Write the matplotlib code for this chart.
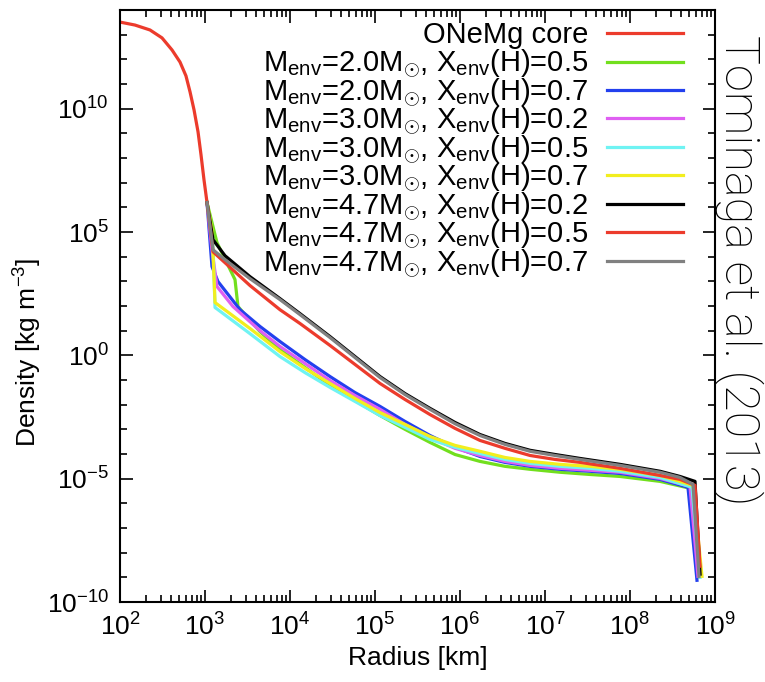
import numpy as np
import matplotlib
matplotlib.use("Agg")
import matplotlib.pyplot as plt
from matplotlib.ticker import FixedLocator, LogLocator, LogFormatterSciNotation, NullFormatter

plt.rcParams['font.family'] = ['Liberation Sans', 'DejaVu Sans']
plt.rcParams['mathtext.fontset'] = 'custom'
plt.rcParams['mathtext.rm'] = 'Liberation Sans'
plt.rcParams['mathtext.it'] = 'Liberation Sans:italic'
plt.rcParams['mathtext.bf'] = 'Liberation Sans:bold'
plt.rcParams['axes.unicode_minus'] = False

# log10 radius [km] / log10 density [kg m^-3]
core_logr = [2.0, 2.176, 2.353, 2.494, 2.612, 2.706, 2.776, 2.824, 2.871, 2.918, 2.953, 2.988, 3.024]
core_logrho = [13.51, 13.39, 13.19, 12.87, 12.38, 11.89, 11.33, 10.68, 9.95, 9.06, 8.13, 7.12, 6.19]

m20_x05_logr = [3.024, 3.141, 3.353, 3.388, 3.647, 3.882, 4.176, 4.471, 4.765, 5.059, 5.353,
                5.647, 5.941, 6.235, 6.529, 6.824, 7.176, 7.529, 7.882, 8.353, 8.706, 8.800]
m20_x05_logrho = [6.19, 4.57, 3.07, 1.98, 0.96, 0.23, -0.49, -1.22, -1.83, -2.44, -3.00,
                  -3.53, -4.02, -4.30, -4.50, -4.62, -4.74, -4.83, -4.91, -5.11, -5.39, -9.00]

m20_x07_logr = [3.024, 3.082, 3.153, 3.412, 3.647, 3.882, 4.176, 4.471, 4.765, 5.059, 5.353,
                5.647, 5.941, 6.235, 6.529, 6.824, 7.176, 7.529, 7.882, 8.353, 8.682, 8.788]
m20_x07_logrho = [6.19, 3.60, 2.99, 1.85, 1.17, 0.56, -0.17, -0.86, -1.51, -2.07, -2.68,
                  -3.25, -3.73, -4.10, -4.34, -4.50, -4.62, -4.70, -4.79, -5.03, -5.35, -9.12]

m30_x02_logr = [3.024, 3.082, 3.141, 3.329, 3.647, 3.882, 4.176, 4.471, 4.765, 5.059, 5.353,
                5.647, 5.941, 6.235, 6.529, 6.824, 7.176, 7.529, 7.882, 8.353, 8.706, 8.800]
m30_x02_logrho = [6.19, 4.28, 2.79, 1.98, 1.00, 0.36, -0.33, -1.02, -1.63, -2.19, -2.80,
                  -3.33, -3.77, -4.06, -4.30, -4.46, -4.58, -4.66, -4.74, -4.99, -5.31, -8.96]

m30_x05_logr = [3.024, 3.094, 3.118, 3.529, 3.882, 4.176, 4.471, 4.765, 5.059, 5.353, 5.647,
                5.941, 6.235, 6.529, 6.824, 7.176, 7.529, 7.882, 8.353, 8.729, 8.824]
m30_x05_logrho = [6.19, 4.49, 1.94, 0.88, -0.05, -0.70, -1.30, -1.87, -2.44, -2.92, -3.41,
                  -3.73, -3.98, -4.22, -4.38, -4.50, -4.58, -4.70, -4.95, -5.35, -9.00]

m30_x07_logr = [3.024, 3.082, 3.118, 3.529, 3.882, 4.176, 4.471, 4.765, 5.059, 5.353, 5.647,
                5.941, 6.235, 6.529, 6.824, 7.176, 7.529, 7.882, 8.353, 8.741, 8.847]
m30_x07_logrho = [6.19, 5.09, 2.14, 1.09, 0.15, -0.53, -1.14, -1.75, -2.32, -2.80, -3.29,
                  -3.65, -3.89, -4.14, -4.30, -4.42, -4.50, -4.62, -4.87, -5.27, -8.96]

m47_x02_logr = [3.024, 3.094, 3.235, 3.529, 3.882, 4.118, 4.471, 4.765, 5.059, 5.353, 5.647,
                5.941, 6.235, 6.529, 6.824, 7.118, 7.412, 7.882, 8.353, 8.588, 8.765, 8.824]
m47_x02_logrho = [6.19, 4.69, 4.04, 3.19, 2.30, 1.69, 0.76, -0.05, -0.86, -1.55, -2.15,
                  -2.72, -3.21, -3.57, -3.85, -4.02, -4.18, -4.42, -4.70, -4.91, -5.11, -8.87]

m47_x05_logr = [3.024, 3.094, 3.529, 3.882, 4.118, 4.471, 4.765, 5.059, 5.353, 5.647, 5.941,
                6.235, 6.529, 6.824, 7.118, 7.412, 7.882, 8.353, 8.588, 8.765, 8.824]
m47_x05_logrho = [6.19, 4.20, 2.83, 1.85, 1.29, 0.40, -0.37, -1.14, -1.79, -2.40, -2.96,
                  -3.45, -3.77, -4.06, -4.22, -4.34, -4.58, -4.87, -5.03, -5.27, -8.55]

m47_x07_logr = [3.024, 3.094, 3.235, 3.529, 3.882, 4.118, 4.471, 4.765, 5.059, 5.353, 5.647,
                5.941, 6.235, 6.529, 6.824, 7.118, 7.412, 7.882, 8.353, 8.588, 8.741, 8.812]
m47_x07_logrho = [6.19, 4.28, 3.88, 3.11, 2.26, 1.65, 0.72, -0.09, -0.90, -1.59, -2.19,
                  -2.77, -3.25, -3.61, -3.89, -4.06, -4.22, -4.46, -4.74, -4.95, -5.23, -8.96]

labels = [
    'ONeMg core',
    r'M$_{\rm env}$=2.0M$_{\odot}$, X$_{\rm env}$(H)=0.5',
    r'M$_{\rm env}$=2.0M$_{\odot}$, X$_{\rm env}$(H)=0.7',
    r'M$_{\rm env}$=3.0M$_{\odot}$, X$_{\rm env}$(H)=0.2',
    r'M$_{\rm env}$=3.0M$_{\odot}$, X$_{\rm env}$(H)=0.5',
    r'M$_{\rm env}$=3.0M$_{\odot}$, X$_{\rm env}$(H)=0.7',
    r'M$_{\rm env}$=4.7M$_{\odot}$, X$_{\rm env}$(H)=0.2',
    r'M$_{\rm env}$=4.7M$_{\odot}$, X$_{\rm env}$(H)=0.5',
    r'M$_{\rm env}$=4.7M$_{\odot}$, X$_{\rm env}$(H)=0.7',
]
colors = ['#ec3b2c', '#72df1e', '#2340ee', '#df5ff2', '#6ff3f3',
          '#f2ee1f', '#000000', '#ec3b2c', '#808080']
series = [
    (core_logr, core_logrho),
    (m20_x05_logr, m20_x05_logrho),
    (m20_x07_logr, m20_x07_logrho),
    (m30_x02_logr, m30_x02_logrho),
    (m30_x05_logr, m30_x05_logrho),
    (m30_x07_logr, m30_x07_logrho),
    (m47_x02_logr, m47_x02_logrho),
    (m47_x05_logr, m47_x05_logrho),
    (m47_x07_logr, m47_x07_logrho),
]

fig = plt.figure(figsize=(7.65, 6.82), dpi=100)
ax = fig.add_axes([120/765, 80/682, 595/765, 592/682])

for (lr, lrho), c in zip(series, colors):
    ax.plot(np.power(10.0, lr), np.power(10.0, lrho), color=c, lw=2.3)

ax.set_xscale('log')
ax.set_yscale('log')
ax.set_xlim(1e2, 1e9)
ax.set_ylim(1e-10, 1e14)

ax.xaxis.set_major_locator(LogLocator(base=10, numticks=20))
ax.xaxis.set_minor_locator(LogLocator(base=10, subs=(2, 3, 4, 5, 6, 7, 8, 9), numticks=20))
ax.xaxis.set_minor_formatter(NullFormatter())
ax.yaxis.set_major_locator(FixedLocator([1e-10, 1e-5, 1e0, 1e5, 1e10]))
ax.yaxis.set_minor_locator(FixedLocator([10.0**k for k in range(-10, 15)]))
ax.yaxis.set_major_formatter(LogFormatterSciNotation())
ax.yaxis.set_minor_formatter(NullFormatter())

ax.tick_params(which='both', direction='in', top=True, right=True, width=1.2)
ax.tick_params(which='major', length=9, labelsize=19, pad=8)
ax.tick_params(which='minor', length=5)
for s in ax.spines.values():
    s.set_linewidth(1.5)

ax.set_xlabel('Radius [km]', fontsize=19, labelpad=4)
ax.set_ylabel('Density [kg m$^{-3}$]', fontsize=19)
ax.yaxis.set_label_coords(-0.128, 0.422)

# legend: right aligned text, sample line on the right
row0 = (602 - 33) / 592
dy = 28.5 / 592
for i, (lab, c) in enumerate(zip(labels, colors)):
    y = row0 - i * dy
    ax.plot([0.818, 0.946], [y, y], color=c, lw=2.3, transform=ax.transAxes,
            clip_on=False)
    ax.text(0.787, y - 0.017, lab, transform=ax.transAxes, ha='right',
            va='baseline', fontsize=21)

fig.text(0.966, 0.604, 'Tominaga et al. (2013)', rotation=-90, ha='center',
         va='center', fontsize=35, family=['Roboto', 'Liberation Sans'],
         fontweight='light')

fig.savefig('out.png', dpi=100)
